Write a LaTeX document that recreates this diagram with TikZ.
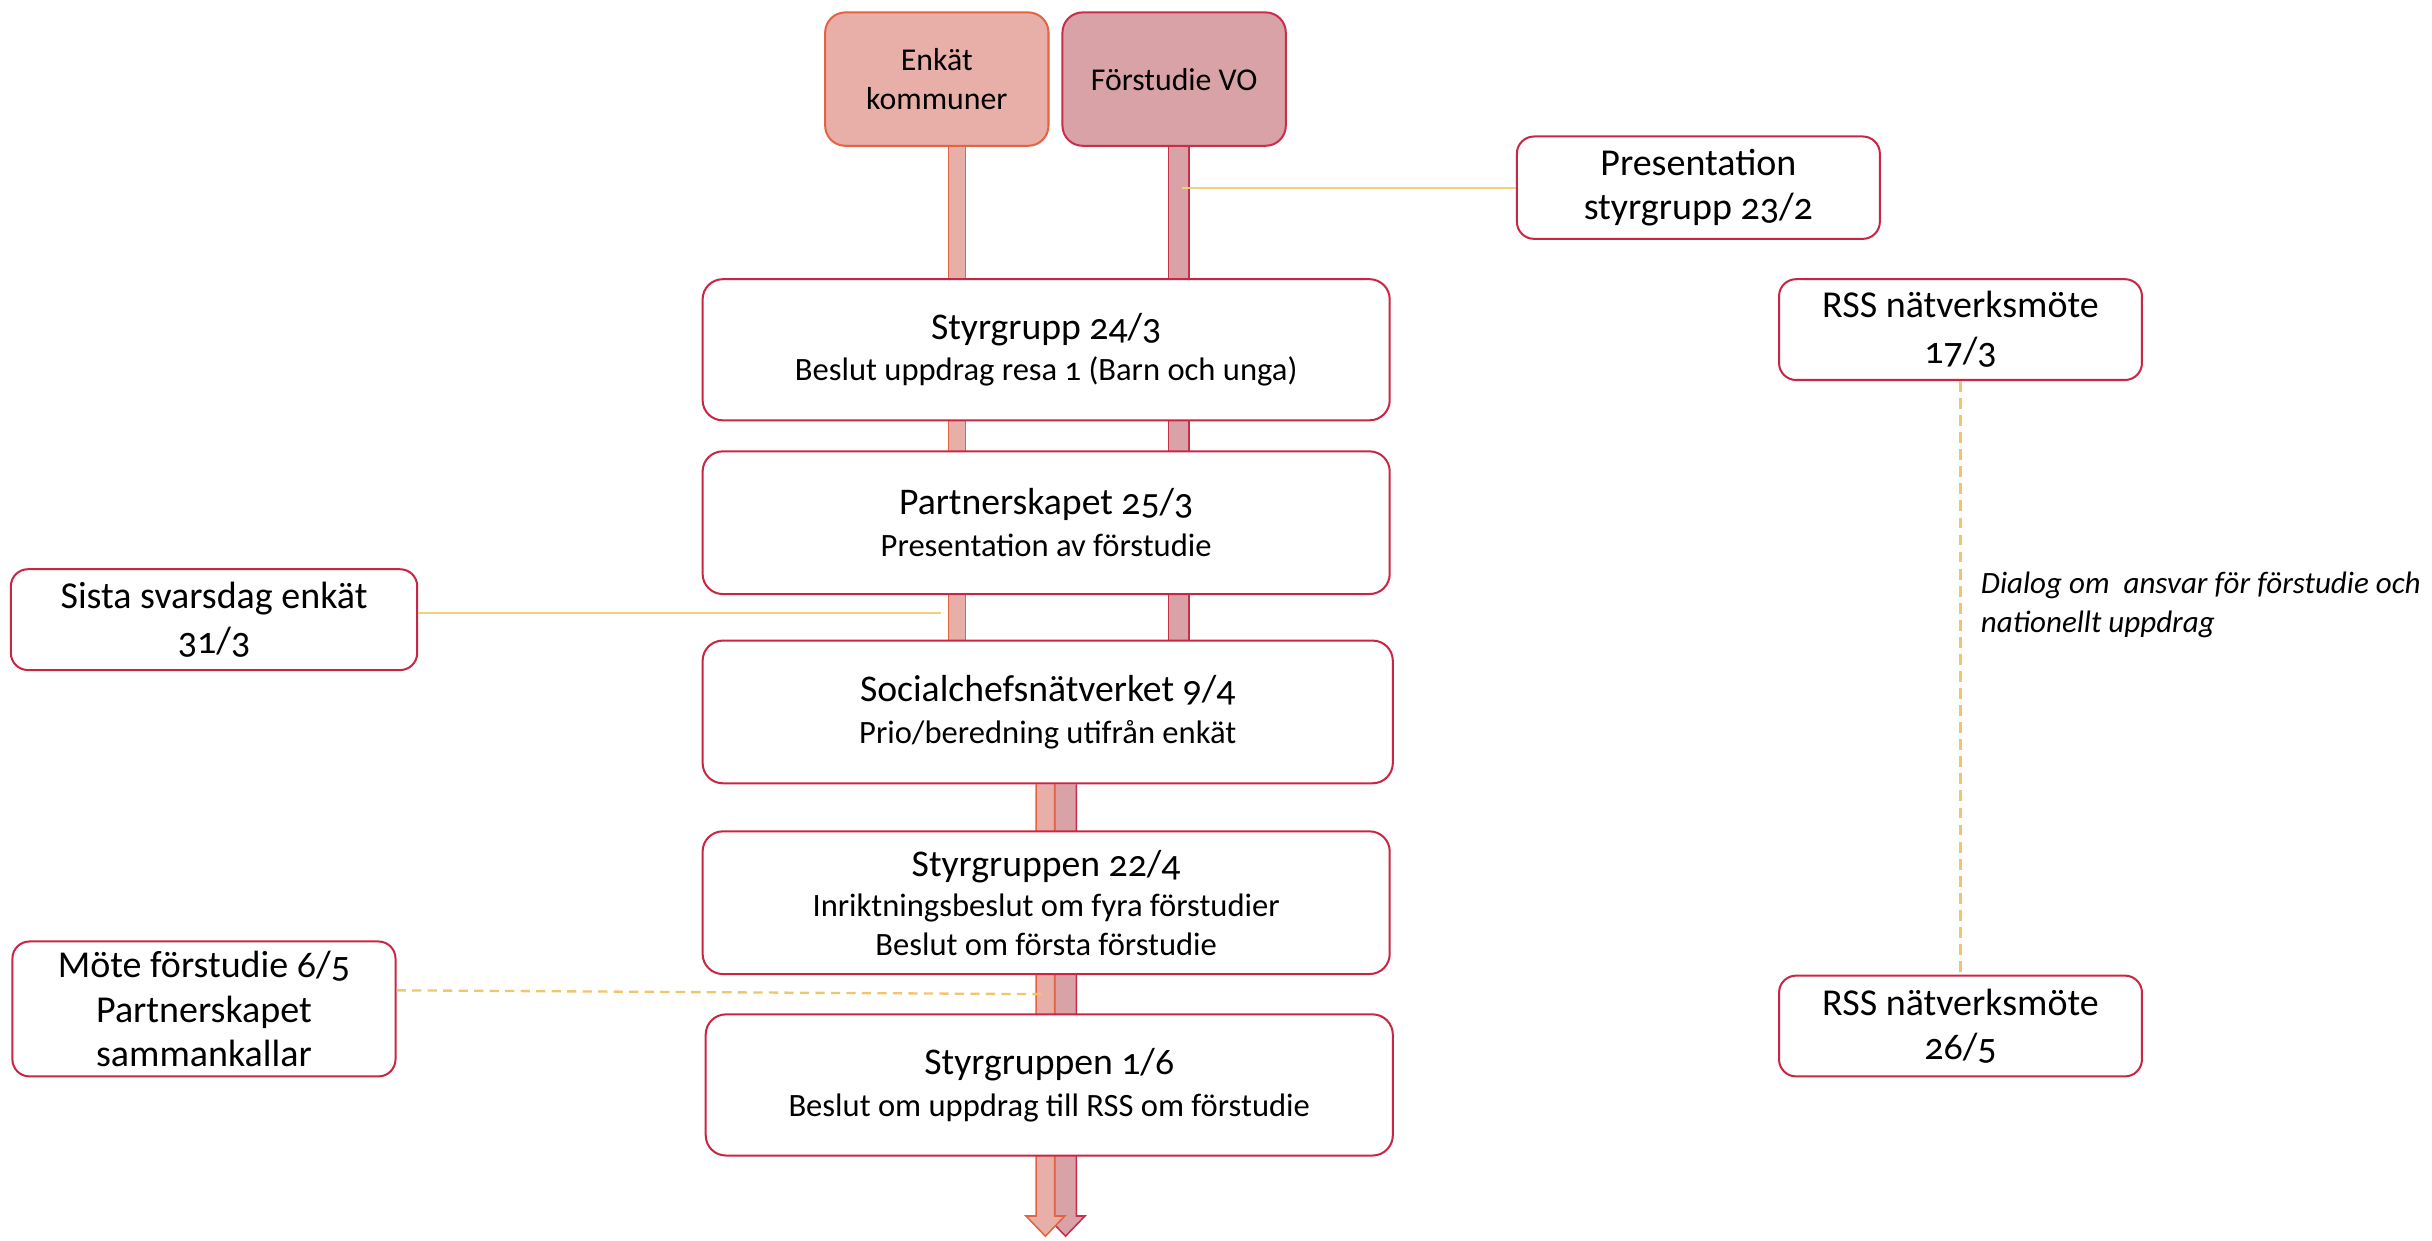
\documentclass[tikz,border=0pt]{standalone}
\usepackage{fontspec}
\setmainfont{Carlito}[Numbers=OldStyle]
\usetikzlibrary{calc,backgrounds}
\definecolor{boxred}{RGB}{200,38,68}
\definecolor{eFill}{RGB}{232,174,168}
\definecolor{eStroke}{RGB}{226,100,66}
\definecolor{fFill}{RGB}{217,162,167}
\definecolor{fStroke}{RGB}{198,46,74}
\definecolor{gold}{RGB}{241,208,125}
\definecolor{golddk}{RGB}{243,196,110}
\newcommand\tfont{\fontsize{24.3}{27}\selectfont}
\newcommand\sfont{\fontsize{21}{25}\selectfont}
\newcommand\sidefont{\fontsize{24.5}{28.5}\selectfont}
\newcommand\topfont{\fontsize{20.5}{25}\selectfont}
\newcommand\dlgfont{\fontsize{20}{25}\selectfont\itshape}
\begin{document}
\begin{tikzpicture}[x=1pt,y=-1pt,
  mainbox/.style={draw=boxred, line width=1.3pt, rounded corners=13pt, fill=white,
    minimum width=443pt, minimum height=91pt, align=center, inner sep=0pt, font=\sfont},
  sidebox/.style={draw=boxred, line width=1.3pt, rounded corners=11pt, fill=white,
    minimum width=234pt, minimum height=65pt, align=center, inner sep=0pt, font=\sidefont},
  topbox/.style={line width=1.3pt, rounded corners=13pt, minimum width=144pt,
    minimum height=86pt, align=center, inner sep=0pt, font=\topfont},
  barE/.style={draw=eStroke, line width=1pt, double=eFill, double distance=10pt},
  barF/.style={draw=fStroke, line width=1pt, double=fFill, double distance=12pt},
  arrE/.style={draw=eStroke, line width=1pt, fill=eFill, line join=miter},
  arrF/.style={draw=fStroke, line width=1pt, fill=fFill, line join=miter},
  goldline/.style={draw=gold, line width=1.3pt},
  golddash/.style={draw=golddk, line width=1.5pt, dash pattern=on 6pt off 4pt},
  golddash2/.style={draw=golddk, line width=1.5pt, dash pattern=on 7pt off 4pt}]
\useasboundingbox (0,0) rectangle (1568,800);

% top boxes
\node[topbox, fill=eFill, draw=eStroke] (enk) at (604,51) {Enkät\\kommuner};
\node[topbox, fill=fFill, draw=fStroke] (fors) at (757,51) {Förstudie VO};

% main boxes
\node[mainbox] (sg1) at (674.5,225.5) {\tfont Styrgrupp 24/3\\[2pt]Beslut uppdrag resa 1 (Barn och unga)};
\node[mainbox, minimum height=92pt] (ps) at (674.5,337) {\tfont Partnerskapet 25/3\\[2pt]Presentation av förstudie};
\node[mainbox, minimum width=445pt, minimum height=92pt] (soc) at (675.5,459) {\tfont Socialchefsnätverket 9/4\\[2pt]Prio/beredning utifrån enkät};
\node[mainbox, minimum height=92pt] (sg2) at (674.5,582) {\tfont Styrgruppen 22/4\\[1pt]Inriktningsbeslut om fyra förstudier\\Beslut om första förstudie};
\node[mainbox] (sg3) at (676.5,699.5) {\tfont Styrgruppen 1/6\\[2pt]Beslut om uppdrag till RSS om förstudie};

% side boxes
\node[sidebox, minimum height=66pt] (pres) at (1095,121) {Presentation\\styrgrupp 23/2};
\node[sidebox, minimum width=262pt] (sista) at (138,399.5) {Sista svarsdag enkät\\31/3};
\node[sidebox, minimum width=247pt, minimum height=87pt] (mote) at (131.5,650.5) {Möte förstudie 6/5\\Partnerskapet\\sammankallar};
\node[sidebox, font=\fontsize{24.5}{29.5}\selectfont] (rss1) at (1264,212.5) {RSS nätverksmöte\\17/3};
\node[sidebox] (rss2) at (1264,661.5) {RSS nätverksmöte\\26/5};

\node[anchor=west, align=left, inner sep=0pt, font=\dlgfont] (dlg) at (1277,390) {Dialog om~ ansvar för förstudie och\\nationellt uppdrag};

% coordinates
\coordinate (eX) at (617,0);
\coordinate (fX) at (760,0);
\coordinate (aL) at (674,797);
\coordinate (aR) at (687,797);

\begin{pgfonlayer}{background}
  \draw[barE] (enk.south -| eX) -- (soc.north -| eX);
  \draw[barF] (fors.south -| fX) -- (soc.north -| fX);
  \draw[arrF] ($(soc.south -| aR)+(-7,0)$) -- ($(aR)+(-7,-13)$) -- ($(aR)+(-12.5,-13)$) -- (aR)
     -- ($(aR)+(12.5,-13)$) -- ($(aR)+(7,-13)$) -- ($(soc.south -| aR)+(7,0)$);
  \draw[arrE] ($(soc.south -| aL)+(-6,0)$) -- ($(aL)+(-6,-13)$) -- ($(aL)+(-12.5,-13)$) -- (aL)
     -- ($(aL)+(12.5,-13)$) -- ($(aL)+(6,-13)$) -- ($(soc.south -| aL)+(6,0)$);
\end{pgfonlayer}

% gold connectors
\coordinate (presEnd) at (762,121);
\draw[goldline] (pres.west) -- (presEnd);
\coordinate (sistaEnd) at (607,395);
\draw[goldline] (sista.east |- sistaEnd) -- (sistaEnd);
\coordinate (moteEnd) at (676,641);
\draw[golddash] ($(mote.east)+(0,-12)$) -- (moteEnd);
\draw[golddash2] (rss1.south) -- (rss2.north);
\end{tikzpicture}
\end{document}
